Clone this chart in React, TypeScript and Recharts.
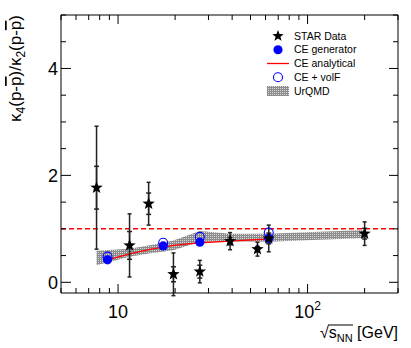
import React from 'react';
import { ComposedChart, XAxis, YAxis, Scatter, Line, Area, ErrorBar, ReferenceLine, Label } from 'recharts';

// STAR net-proton kappa4/kappa2
const starEnergy = [7.7, 11.5, 14.5, 19.6, 27, 39, 54.4, 62.4, 200];
const starValue = [1.77, 0.69, 1.47, 0.15, 0.2, 0.77, 0.62, 0.82, 0.91];
const starStat = [0.4, 0.26, 0.2, 0.14, 0.12, 0.07, 0.05, 0.1, 0.1];
const starTotal = [1.15, 0.59, 0.4, 0.4, 0.21, 0.16, 0.13, 0.25, 0.22];

// canonical ensemble points
const ceEnergy = [8.8, 17.3, 27, 62.4];
const ceGenerator = [0.42, 0.68, 0.75, 0.82];
const ceVolF = [0.48, 0.74, 0.85, 0.93];

// CE analytical curve
const ceAnaEnergy = [8.8, 11.5, 14.5, 17.3, 19.6, 27, 39, 62.4];
const ceAnalytical = [0.42, 0.53, 0.61, 0.66, 0.69, 0.74, 0.77, 0.81];

// UrQMD band
const urqmdEnergy = [7.7, 11.5, 14.5, 19.6, 27, 39, 62.4, 200];
const urqmdLow = [0.32, 0.48, 0.54, 0.6, 0.76, 0.77, 0.76, 0.83];
const urqmdHigh = [0.59, 0.63, 0.69, 0.78, 0.96, 0.91, 0.91, 0.98];

const xTicks = [5, 6, 7, 8, 9, 10, 20, 30, 40, 50, 60, 70, 80, 90, 100, 200, 300];
const yTicks = [0, 0.5, 1, 1.5, 2, 2.5, 3, 3.5, 4, 4.5, 5];

const legendNames = ['STAR Data', 'CE generator', 'CE analytical', 'CE + volF', 'UrQMD'];

const FONT = '"Liberation Sans", Arial, Helvetica, sans-serif';
const BLUE = '#0000ff';
const RED = '#ff0000';

const starData = starEnergy.map((x, i) => ({ x, y: starValue[i], stat: starStat[i], tot: starTotal[i] }));
const ceGenData = ceEnergy.map((x, i) => ({ x, y: ceGenerator[i] }));
const ceVolFData = ceEnergy.map((x, i) => ({ x, y: ceVolF[i] }));
const ceLineData = ceAnaEnergy.map((x, i) => ({ x, y: ceAnalytical[i] }));
const urqmdData = urqmdEnergy.map((x, i) => ({ x, band: [urqmdLow[i], urqmdHigh[i]] }));

const starPath = (cx: number, cy: number, R: number, r: number) => {
  let d = '';
  for (let i = 0; i < 10; i++) {
    const rad = i % 2 === 0 ? R : r;
    const a = -Math.PI / 2 + (i * Math.PI) / 5;
    d += (i ? 'L' : 'M') + (cx + rad * Math.cos(a)).toFixed(2) + ',' + (cy + rad * Math.sin(a)).toFixed(2);
  }
  return d + 'Z';
};

const StarShape = (props: any) => <path d={starPath(props.cx, props.cy, 6.5, 2.7)} fill="#000" />;
const FilledCircle = (props: any) => <circle cx={props.cx} cy={props.cy} r={4.6} fill={BLUE} />;
const OpenCircle = (props: any) => (
  <circle cx={props.cx} cy={props.cy} r={4.5} fill="none" stroke={BLUE} strokeWidth={1.1} />
);

const BottomTick = ({ x, y, payload }: any) => {
  const v = payload.value;
  const major = v === 10 || v === 100;
  return (
    <g>
      <line x1={x} x2={x} y1={y} y2={y - (major ? 9 : 5)} stroke="#000" />
      {v === 10 && (
        <text x={x} y={y + 25} textAnchor="middle" fontSize={18} fontFamily={FONT} fill="#000">
          10
        </text>
      )}
      {v === 100 && (
        <text x={x} y={y + 25} textAnchor="middle" fontSize={18} fontFamily={FONT} fill="#000">
          10<tspan dy={-8} fontSize={12}>2</tspan>
        </text>
      )}
    </g>
  );
};

const TopTick = ({ x, y, payload }: any) => {
  const major = payload.value === 10 || payload.value === 100;
  return <line x1={x} x2={x} y1={y} y2={y + (major ? 9 : 5)} stroke="#000" />;
};

const LeftTick = ({ x, y, payload }: any) => {
  const v = payload.value;
  const major = v % 2 === 0;
  return (
    <g>
      <line x1={x} x2={x + (major ? 10 : 5)} y1={y} y2={y} stroke="#000" />
      {major && v < 5 && (
        <text x={x - 3} y={y + 7} textAnchor="end" fontSize={18} fontFamily={FONT} fill="#000">
          {v}
        </text>
      )}
    </g>
  );
};

const RightTick = ({ x, y, payload }: any) => {
  const major = payload.value % 2 === 0;
  return <line x1={x} x2={x - (major ? 9 : 5)} y1={y} y2={y} stroke="#000" />;
};

const bar = { textDecoration: 'overline' };

const YTitle = ({ viewBox }: any) => {
  const x = viewBox.x + 21;
  const y = viewBox.y;
  return (
    <text transform={`translate(${x},${y}) rotate(-90)`} textAnchor="end" fontSize={17} fontFamily={FONT} fill="#000">
      κ<tspan fontSize={12} dy={4}>4</tspan>
      <tspan dy={-4}>(p-</tspan>
      <tspan style={bar}>p</tspan>
      <tspan>)/κ</tspan>
      <tspan fontSize={12} dy={4}>2</tspan>
      <tspan dy={-4}>(p-</tspan>
      <tspan style={bar}>p</tspan>
      <tspan>)</tspan>
    </text>
  );
};

const XTitle = ({ viewBox }: any) => {
  const right = viewBox.x + viewBox.width;
  const base = viewBox.y + 45;
  return (
    <g>
      <text x={right} y={base} textAnchor="end" fontSize={16} fontFamily={FONT} fill="#000">
        √<tspan>s</tspan>
        <tspan fontSize={11} dy={4}>NN</tspan>
        <tspan dy={-4}> [GeV]</tspan>
      </text>
      <line x1={right - 70} x2={right - 45} y1={base - 13} y2={base - 13} stroke="#000" />
    </g>
  );
};

const LegendBox = () => {
  const rowY = (i: number) => 36 + i * 13.75;
  const ix = 278;
  return (
    <svg width={411} height={348} style={{ position: 'absolute', left: 0, top: 0, pointerEvents: 'none' }}>
      <defs>
        <pattern id="legendHatch" width="2" height="2" patternUnits="userSpaceOnUse">
          <rect width="2" height="2" fill="#8c8c8c" />
          <rect width="1" height="1" fill="#d9d9d9" />
        </pattern>
      </defs>
      <path d={starPath(ix, rowY(0), 6, 2.5)} fill="#000" />
      <circle cx={ix} cy={rowY(1)} r={4.6} fill={BLUE} />
      <line x1={267} x2={289} y1={rowY(2)} y2={rowY(2)} stroke={RED} strokeWidth={1.3} />
      <circle cx={ix} cy={rowY(3)} r={4.5} fill="none" stroke={BLUE} strokeWidth={1.1} />
      <rect x={267} y={rowY(4) - 5} width={22} height={10} fill="url(#legendHatch)" />
      {legendNames.map((name, i) => (
        <text key={name} x={294} y={rowY(i) + 3.7} fontSize={10.5} fontFamily={FONT} fill="#000">
          {name}
        </text>
      ))}
    </svg>
  );
};

const App = () => {
  return (
    <div style={{ position: 'absolute', left: 0, top: 0, width: 411, height: 348, background: '#fff' }}>
      <ComposedChart width={411} height={348} margin={{ top: 0, right: 0, bottom: 0, left: 0 }}>
        <defs>
          <pattern id="urqmdHatch" width="2" height="2" patternUnits="userSpaceOnUse">
            <rect width="2" height="2" fill="#8c8c8c" />
            <rect width="1" height="1" fill="#d9d9d9" />
          </pattern>
        </defs>
        <XAxis
          dataKey="x"
          type="number"
          scale="log"
          domain={[5, 300]}
          allowDataOverflow
          ticks={xTicks}
          interval={0}
          height={55}
          tickSize={0}
          tickMargin={0}
          tickLine={false}
          tick={<BottomTick />}
          axisLine={{ stroke: '#000' }}
        >
          <Label content={<XTitle />} />
        </XAxis>
        <XAxis
          xAxisId="top"
          orientation="top"
          dataKey="x"
          type="number"
          scale="log"
          domain={[5, 300]}
          allowDataOverflow
          ticks={xTicks}
          interval={0}
          height={15}
          tickSize={0}
          tickMargin={0}
          tickLine={false}
          tick={<TopTick />}
          axisLine={{ stroke: '#000' }}
        />
        <YAxis
          dataKey="y"
          type="number"
          domain={[-0.2, 5]}
          allowDataOverflow
          ticks={yTicks}
          interval={0}
          width={61}
          tickSize={0}
          tickMargin={0}
          tickLine={false}
          tick={<LeftTick />}
          axisLine={{ stroke: '#000' }}
        >
          <Label content={<YTitle />} />
        </YAxis>
        <YAxis
          yAxisId="right"
          orientation="right"
          type="number"
          domain={[-0.2, 5]}
          allowDataOverflow
          ticks={yTicks}
          interval={0}
          width={13}
          tickSize={0}
          tickMargin={0}
          tickLine={false}
          tick={<RightTick />}
          axisLine={{ stroke: '#000' }}
        />
        <Area
          data={urqmdData}
          dataKey="band"
          type="linear"
          stroke="none"
          fill="url(#urqmdHatch)"
          fillOpacity={1}
          dot={false}
          activeDot={false}
          isAnimationActive={false}
        />
        <ReferenceLine y={1} stroke={RED} strokeWidth={1.5} strokeDasharray="5 3" />
        <Line
          data={ceLineData}
          dataKey="y"
          type="linear"
          stroke={RED}
          strokeWidth={1.3}
          dot={false}
          activeDot={false}
          isAnimationActive={false}
        />
        <Scatter data={ceVolFData} dataKey="y" shape={OpenCircle} isAnimationActive={false} />
        <Scatter data={ceGenData} dataKey="y" shape={FilledCircle} isAnimationActive={false} />
        <Scatter data={starData} dataKey="y" shape={StarShape} isAnimationActive={false}>
          <ErrorBar dataKey="tot" direction="y" width={2} stroke="#222" strokeWidth={1.5} />
          <ErrorBar dataKey="stat" direction="y" width={2.5} stroke="#222" strokeWidth={1.5} />
        </Scatter>
      </ComposedChart>
      <LegendBox />
    </div>
  );
};

export default App;
